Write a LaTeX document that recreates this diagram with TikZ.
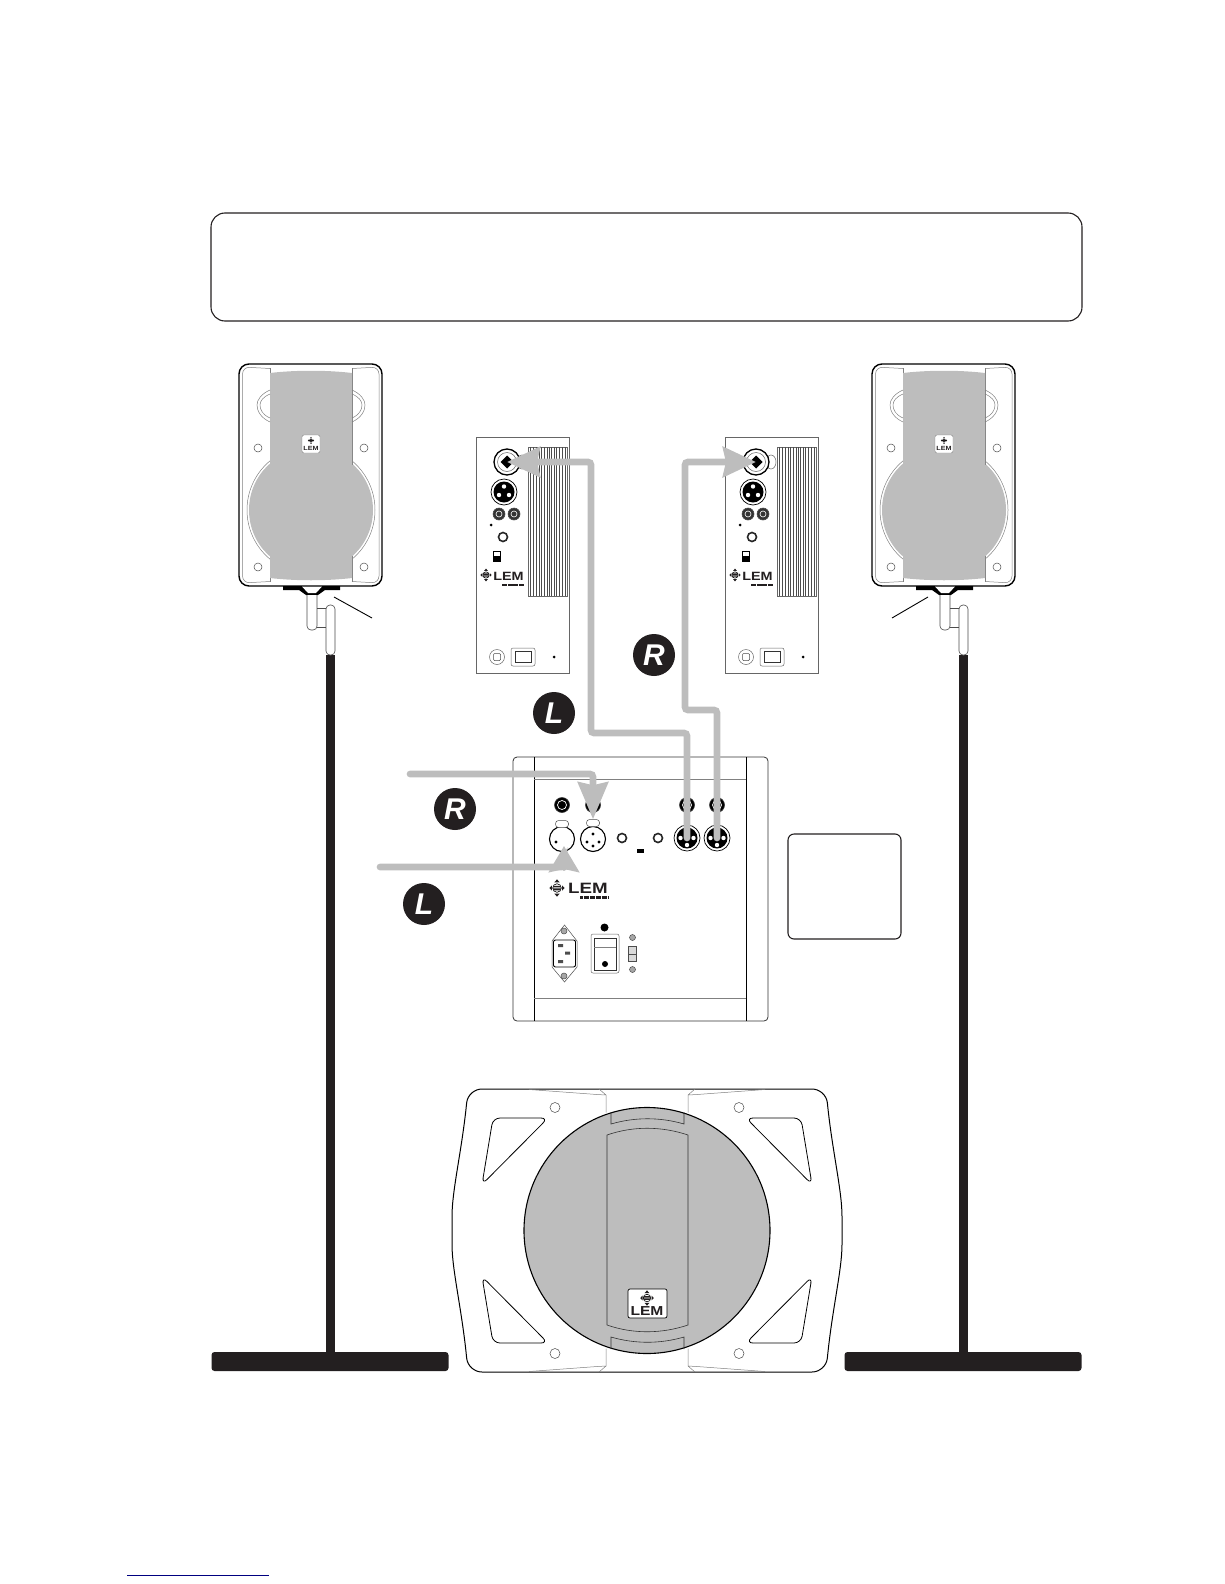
\documentclass[tikz,border=0pt]{standalone}
\usepackage{fontspec}
\setmainfont{Liberation Sans}
\usetikzlibrary{positioning,calc,arrows.meta,shapes.geometric}
\definecolor{lemgray}{RGB}{189,189,189}
\definecolor{lemblack}{RGB}{35,31,32}

\begin{document}
\begin{tikzpicture}[x=1pt,y=-1pt,>=Stealth,
          box/.style ={draw=lemblack,rounded corners=6pt,line width=1.1pt,inner sep=0pt},
          hole/.style={draw=black!70,circle,line width=.5pt,inner sep=0pt,minimum size=8pt},
          thin line/.style={draw=black!50,line width=.5pt},
          xlrm/.style={draw=black,circle,fill=white,line width=.7pt,inner sep=0pt,minimum size=26pt},
          xlrf/.style={draw=black,circle,fill=white,line width=1.1pt,inner sep=0pt,minimum size=25pt},
          jack/.style={draw=black!80,circle,fill=black,line width=.6pt,inner sep=0pt,minimum size=15pt},
          rca/.style ={draw=black!70,circle,fill=black!80,line width=.6pt,inner sep=0pt,minimum size=12pt},
          knob/.style={draw=black!85,circle,fill=white,line width=1.6pt,inner sep=0pt,minimum size=9pt},
          screw/.style={draw=black!70,circle,fill=black!35,line width=.5pt,inner sep=0pt,minimum size=6pt},
          spot/.style={circle,fill=black,inner sep=0pt,minimum size=4pt},
          badge/.style={circle,fill=lemblack,text=white,inner sep=0pt,minimum size=42pt,
                        font=\fontsize{30}{30}\selectfont\bfseries\itshape},
          lem/.style={inner sep=0pt,text=lemblack,font=\fontsize{#1}{#1}\selectfont\bfseries},
          cable/.style={draw=lemgray,line width=6.7pt,line cap=round,rounded corners=3pt,
                        -{Stealth[length=#1,width=30pt,inset=3pt]}},
          cable/.default=33pt,
          lemmark/.pic={
            \draw[fill=white,line width=.6pt] (0,0) circle (4.2);
            \fill[lemblack] (-3.6,-2.2) rectangle (3.6,-1) (-4,-.5) rectangle (4,.5) (-3.6,1) rectangle (3.6,2.2);
            \fill[lemblack] (0,-8.5) -- (-2.6,-5.5) -- (2.6,-5.5) -- cycle
                            (0,8.5) -- (-2.6,5.5) -- (2.6,5.5) -- cycle
                            (-7.5,0) -- (-5,-2.6) -- (-5,2.6) -- cycle
                            (7.5,0) -- (5,-2.6) -- (5,2.6) -- cycle;
          }]
        \useasboundingbox (0,0) rectangle (1224,1584);
        \node[box,rounded corners=14pt,minimum width=871pt,minimum height=108pt] (info) at (646.5,267) {};
        \node[box,minimum width=113pt,minimum height=105pt] (note) at (844.5,886.5) {};
        % stands and speakers
        \foreach \dx/\side/\ax/\bx in {0/L/334/372,633/R/295/259} {
          \begin{scope}[xshift=\dx]
            \fill[lemblack] (326,655) rectangle (335,1353);
            \node[fill=lemblack,rounded corners=3pt,inner sep=0pt,minimum width=237pt,minimum height=19pt] (base\side) at (330,1361.5) {};
            \fill[lemgray] (311,510) circle (62);
            \draw[thin line] (311,510) circle (64);
            \node[box,rounded corners=10pt,line width=1.4pt,draw=black,minimum width=143pt,minimum height=222pt] (spk\side) at (310.5,475) {};
            \draw[thin line,rounded corners=7pt] (270,368.5) -- (242.5,367) -- (242.5,583) -- (270,581.5)
                                                 (352,368.5) -- (379,367) -- (379,583) -- (352,581.5);
            \draw[thin line] (270,368) -- (270,465) (270,556) -- (270,582) (352,368) -- (352,465) (352,556) -- (352,582);
            \fill[lemgray] (270,373) .. controls (295,370) and (327,370) .. (352,373) -- (352,578) .. controls (327,581) and (295,581) .. (270,578) -- cycle;
            \draw[thin line] (270,390) .. controls (261,394) and (257,400) .. (257,405) .. controls (257,411) and (261,418) .. (270,422)
                             (270,394) .. controls (263,397) and (260,401) .. (260,405) .. controls (260,410) and (263,415) .. (270,418)
                             (352,390) .. controls (361,394) and (365,400) .. (365,405) .. controls (365,411) and (361,418) .. (352,422)
                             (352,394) .. controls (359,397) and (362,401) .. (362,405) .. controls (362,410) and (359,415) .. (352,418);
            \node[hole] (hole\side a) at (258,448) {};
            \node[hole] (hole\side b) at (364,448) {};
            \node[hole] (hole\side c) at (258,567) {};
            \node[hole] (hole\side d) at (364,567) {};
            \node[draw=black!50,fill=white,rounded corners=2pt,inner sep=0pt,minimum size=18pt] (tag\side) at (311,444) {};
            \pic[scale=.42] at (311,440.5) {lemmark};
            \node[lem=6] (tagtext\side) at (311,448.5) {\scalebox{1.2}[1]{LEM}};
            % mount
            \fill[black] (283,586) -- (340,586) -- (340,590) -- (325,590) -- (318,595) -- (306,595) -- (299,590) -- (283,590) -- cycle;
            \fill[white] (302,586.5) -- (322,586.5) -- (316,593) -- (308,593) -- cycle;
            \draw[black!70,line width=.6pt,fill=white,rounded corners=4pt] (307,595) -- (307,630) -- (317,630) -- (317,595);
            \draw[black!70,line width=.6pt] (317,608) -- (326,608) (317,627) -- (326,627);
            \draw[black!70,line width=.6pt,fill=white,rounded corners=4pt] (326,655) -- (326,605) -- (335,605) -- (335,655) -- cycle;
            \coordinate (ann\side a) at (\ax,597);
            \coordinate (ann\side b) at (\bx,618);
            \draw[black,line width=.9pt] (ann\side a) -- (ann\side b);
          \end{scope}
        }
        % satellite back panels
        \foreach \dx/\side in {0/L,249/R} {
          \begin{scope}[xshift=\dx]
            \node[draw=black!60,line width=.6pt,inner sep=0pt,minimum width=93pt,minimum height=236pt] (panel\side) at (522.5,555) {};
            \node[draw=black!60,line width=.4pt,inner sep=0pt,minimum width=39pt,minimum height=149pt] (sink\side) at (547.5,521.5) {};
            \foreach \x in {530,533,536,539,541,544,547,549,551,554,556,559,562,565}
              \draw[black!70,line width=.4pt] (\x,447) -- (\x,596);
            \node[draw=black!60,fill=white,ellipse,line width=.5pt,inner sep=0pt,minimum width=10pt,minimum height=14pt] (latch\side) at (522,462) {};
            \node[xlrm,line width=1.3pt] (combo\side) at (507,462) {};
            \draw[black!60,line width=.5pt] (combo\side) circle (9.5);
            \fill[black] (500.5,462) -- (507,455.5) -- (513.5,462) -- (507,468.5) -- cycle;
            \node[xlrm] (xlr\side) at (504,492) {};
            \fill[black] (xlr\side) circle (10.5);
            \fill[white] (504,486.5) circle (2.2) (499,495) circle (2.2) (509,495) circle (2.2);
            \node[rca] (rca\side a) at (499,514) {};
            \node[rca] (rca\side b) at (514,514) {};
            \draw[white,line width=.6pt] (rca\side a) circle (3) (rca\side b) circle (3);
            \node[spot,minimum size=3pt] (led\side) at (491,525) {};
            \node[knob] (gain\side) at (503,537) {};
            \node[draw=black,line width=.6pt,inner sep=0pt,minimum width=7pt,minimum height=10pt] (sw\side) at (496.5,556) {};
            \fill[black] (493,556) rectangle (500,561);
            \pic[scale=.75] at (486,575) {lemmark};
            \node[lem=12] (logo\side) at (508.5,576) {\scalebox{1.2}[1]{LEM}};
            \draw[lemblack,line width=2pt,dash pattern=on .6pt off .5pt] (502,584.5) -- (523,584.5);
            \node[draw=black!60,circle,line width=.5pt,inner sep=0pt,minimum size=15pt] (plug\side) at (497,657) {};
            \node[draw=black!70,rounded corners=1pt,line width=.5pt,inner sep=0pt,minimum size=7pt] at (497,657) {};
            \node[draw=black!60,rounded corners=2pt,line width=.5pt,inner sep=0pt,minimum width=24pt,minimum height=18pt] (rocker\side) at (523,657) {};
            \node[draw=black!80,line width=.5pt,inner sep=0pt,minimum width=16pt,minimum height=11pt] at (523,657) {};
            \node[spot,minimum size=3pt] (pwr\side) at (554,657) {};
          \end{scope}
        }
        % subwoofer back panel
        \node[draw=black!80,rounded corners=4pt,line width=.8pt,inner sep=0pt,minimum width=255pt,minimum height=264pt] (sub) at (640.5,889) {};
        \draw[black,line width=.8pt] (534,757) -- (534,1021) (746,757) -- (746,1021);
        \draw[thin line] (534,779) -- (746,779) (534,998) -- (746,998);
        \node[jack] (jackA) at (562,805) {};
        \node[jack] (jackB) at (593,805) {};
        \node[jack] (jackC) at (687,805) {};
        \node[jack] (jackD) at (717,805) {};
        \foreach \j in {A,B,C,D} {
          \draw[white,line width=.7pt] (jack\j) circle (4.5);
        }
        \node[xlrf] (xlrA) at (562,839) {};
        \node[xlrf] (xlrB) at (593,839) {};
        \node[draw=black!70,fill=white,rounded corners=3pt,line width=.5pt,inner sep=0pt,minimum width=13pt,minimum height=7pt] (latchA) at (562,824) {};
        \node[draw=black!70,fill=white,rounded corners=3pt,line width=.5pt,inner sep=0pt,minimum width=13pt,minimum height=7pt] (latchB) at (593,823) {};
        \fill[black] (593,834) circle (1.6) (587,842) circle (1.6) (599,842) circle (1.6) (593,846) circle (1.6);
        \fill[black] (556,842) circle (1.6);
        \node[knob] (gainA) at (622,838) {};
        \node[knob] (gainB) at (658,838) {};
        \fill[black] (637,849) rectangle (644,853);
        \node[xlrm] (xlrC) at (687,838) {};
        \node[xlrm] (xlrD) at (717,838) {};
        \foreach \j in {C,D} {
          \fill[black] (xlr\j) circle (10.5);
        }
        \fill[white] (680.5,838) circle (2.2) (693.5,838) circle (2.2) (687,845) circle (2.2)
                     (710.5,838) circle (2.2) (723.5,838) circle (2.2) (717,845) circle (2.2);
        \pic[scale=1.02] at (557,888) {lemmark};
        \node[lem=15] (sublogo) at (588,888) {\scalebox{1.25}[1]{LEM}};
        \draw[lemblack,line width=2.6pt,dash pattern=on .7pt off .5pt] (580,897.5) -- (608,897.5);
        % mains inlet
        \draw[black!70,line width=.5pt] (564.5,925) -- (577,941) -- (577,967) -- (564.5,982) -- (552,967) -- (552,941) -- cycle;
        \node[draw=black,fill=white,rounded corners=2pt,line width=.9pt,inner sep=0pt,minimum width=22pt,minimum height=27pt] (inlet) at (564.5,953.5) {};
        \node[screw] (screwA) at (564,931) {};
        \node[screw] (screwB) at (564,976) {};
        \fill[black!70] (558,944) rectangle (563,947) (565,951.5) rectangle (570,954.5) (558,960) rectangle (563,963);
        \node[draw=black!60,rounded corners=2pt,line width=.5pt,inner sep=0pt,minimum width=28pt,minimum height=39pt] (power) at (605,953.5) {};
        \node[draw=black!80,line width=.5pt,inner sep=0pt,minimum width=22pt,minimum height=32pt] (rocker) at (605,954) {};
        \draw[thin line] (594,947) -- (616,947);
        \node[spot,minimum size=6pt] (powerdot) at (605,964) {};
        \node[spot,minimum size=8pt] (fuse) at (604.5,927.5) {};
        \node[screw] (screwC) at (632.5,937.5) {};
        \node[screw] (screwD) at (632.5,969.5) {};
        \node[draw=black!70,fill=black!15,line width=.5pt,inner sep=0pt,minimum width=8pt,minimum height=15pt] (slide) at (632,953.5) {};
        \draw[black!70,line width=.5pt] (628,954) -- (636,954);
        % subwoofer front
        \node[draw=none,inner sep=0pt,minimum size=0pt] (woofer) at (647,1230.5) {};
        \draw[black,line width=1pt,rounded corners=14pt] (647,1089) -- (468,1089) .. controls (462,1150) and (452,1190) .. (452,1230.5) .. controls (452,1270) and (462,1310) .. (468,1372) -- (826,1372) .. controls (832,1310) and (842,1270) .. (842,1230.5) .. controls (842,1190) and (832,1150) .. (826,1089) -- cycle;
        \foreach \sx/\sy/\n in {1/1/a,-1/1/b,1/-1/c,-1/-1/d} {
          \begin{scope}[shift={(woofer)},xscale=\sx,yscale=\sy]
            \draw[black,line width=.8pt,rounded corners=7pt] (-154,-112.5) -- (-99,-112.5) -- (-165,-46) -- cycle;
            \node[hole,minimum size=10pt] (wooferhole\n) at (-92,-123) {};
            \draw[thin line] (-118,-141) -- (-50,-136) -- (-41,-135.5) -- (-41,-118) (-48,-141.5) -- (-41,-135.5);
          \end{scope}
        }
        \draw[black,fill=lemgray,line width=1.1pt] (woofer) circle (123);
        \draw[black!80,line width=.6pt] (607,1135) .. controls (633,1126) and (661,1126) .. (688,1135) -- (688,1325) .. controls (661,1334) and (633,1334) .. (607,1325) -- cycle;
        \draw[black!80,line width=.6pt] (611,1112) -- (611,1124) .. controls (635,1117) and (660,1117) .. (684,1124) -- (684,1112)
                                        (611,1349) -- (611,1337) .. controls (635,1344) and (660,1344) .. (684,1337) -- (684,1349);
        \node[draw=black,fill=white,rounded corners=2pt,line width=.7pt,inner sep=0pt,minimum width=39pt,minimum height=29pt] (wooferlogo) at (647.5,1303.5) {};
        \pic[scale=.9] at (647,1298) {lemmark};
        \node[lem=13] (woofertext) at (647,1311.5) {\scalebox{1.2}[1]{LEM}};
        % cables
        \coordinate (bendLa) at (591,733);
        \coordinate (bendRa) at (685,710);
        \coordinate (inR) at (410,774);
        \coordinate (inL) at (380,867);
        \draw[cable] (xlrC.center) |- (bendLa) |- (comboL.center);
        \draw[cable] (xlrD.center) |- (bendRa) |- (comboR.center);
        \draw[cable=37pt] (inR) -| (latchB.north);
        \draw[cable=26pt,shorten >=7pt] (inL) -| ($(xlrA.center)+(2,0)$);
        % labels
        \node[badge] (rtop) at (654,655) {R};
        \node[badge] (ltop) at (554,713) {L};
        \node[badge] (rin) at (455,809) {R};
        \node[badge] (lin) at (424,904) {L};
        \coordinate (linkA) at (127,1575);
        \coordinate (linkB) at (269,1575);
        \draw[blue!50!black,line width=1pt] (linkA) -- (linkB);
      \end{tikzpicture}
\end{document}
